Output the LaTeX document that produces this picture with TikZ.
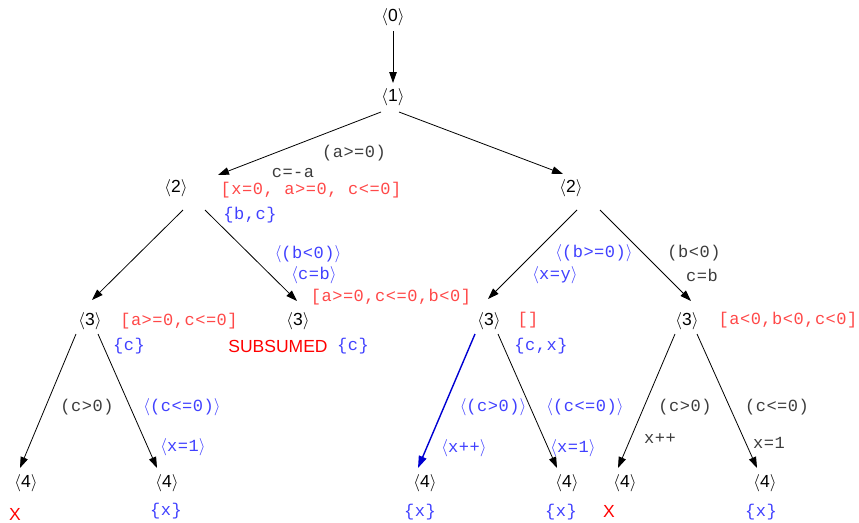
\documentclass[tikz,border=0pt]{standalone}
\usepackage{fontspec}
\setmainfont{Liberation Sans}
\newfontfamily\monof[LetterSpace=3]{Liberation Mono}
\usetikzlibrary{arrows.meta}
\definecolor{gtxt}{RGB}{60,60,60}
\definecolor{rtxt}{RGB}{255,72,72}
\definecolor{btxt}{RGB}{64,64,255}
\definecolor{bedge}{RGB}{0,0,210}
\newcommand{\lan}{\ensuremath{\langle}}
\newcommand{\ran}{\ensuremath{\rangle}}
\tikzset{
  sn/.style={font=\fontsize{17.5}{20}\selectfont, inner sep=0pt},
  lab/.style={font=\monof\fontsize{17}{20}\selectfont, inner sep=0pt},
  glab/.style={lab, text=gtxt},
  rlab/.style={lab, text=rtxt},
  blab/.style={lab, text=btxt},
  bad/.style={font=\fontsize{17.5}{20}\selectfont, inner sep=0pt, text=red},
  edge/.style={draw=black, line width=0.8pt, -{Triangle[length=11pt,width=7.5pt]}},
  bluedge/.style={draw=bedge, line width=1.4pt, -{Triangle[length=12pt,width=8pt]}},
}
\begin{document}
\begin{tikzpicture}[x=1pt,y=-1pt]
\useasboundingbox (0,0) rectangle (859,522);
% state nodes
\node[sn] (n0) at (393,17) {\lan0\ran};
\node[sn] (n1) at (393,97) {\lan1\ran};
\node[sn] (n2L) at (176,188) {\lan2\ran};
\node[sn] (n2R) at (571,188) {\lan2\ran};
\node[sn] (n3a) at (90,321) {\lan3\ran};
\node[sn] (n3b) at (298,321) {\lan3\ran};
\node[sn] (n3c) at (489,321) {\lan3\ran};
\node[sn] (n3d) at (687,321) {\lan3\ran};
\node[sn] (n4a) at (26,483) {\lan4\ran};
\node[sn] (n4b) at (167,483) {\lan4\ran};
\node[sn] (n4c) at (425,483) {\lan4\ran};
\node[sn] (n4d) at (567,483) {\lan4\ran};
\node[sn] (n4e) at (625,483) {\lan4\ran};
\node[sn] (n4f) at (765,483) {\lan4\ran};
% edges
\draw[edge] ([yshift=-14pt]n0.center) -- ([yshift=14pt]n1.center);
\draw[edge] ([xshift=-12pt,yshift=-15pt]n1.center) -- ([xshift=42pt,yshift=13pt]n2L.center);
\draw[edge] ([xshift=6pt,yshift=-15pt]n1.center) -- ([xshift=-8pt,yshift=14pt]n2R.center);
\draw[edge] ([xshift=7pt,yshift=-22pt]n2L.center) -- ([xshift=2pt,yshift=21pt]n3a.center);
\draw[edge] ([xshift=29pt,yshift=-22pt]n2L.center) -- ([xshift=-1pt,yshift=20pt]n3b.center);
\draw[edge] ([xshift=6pt,yshift=-22pt]n2R.center) -- ([xshift=-1pt,yshift=22pt]n3c.center);
\draw[edge] ([xshift=29pt,yshift=-22pt]n2R.center) -- ([xshift=4pt,yshift=20pt]n3d.center);
\draw[edge] ([xshift=-14pt,yshift=-13pt]n3a.center) -- ([xshift=-6pt,yshift=15pt]n4a.center);
\draw[edge] ([xshift=8pt,yshift=-13pt]n3a.center) -- ([xshift=-10pt,yshift=15pt]n4b.center);
\draw[bluedge] ([xshift=-14pt,yshift=-13pt]n3c.center) -- ([xshift=-7pt,yshift=15pt]n4c.center);
\draw[edge] ([xshift=9pt,yshift=-13pt]n3c.center) -- ([xshift=-10pt,yshift=15pt]n4d.center);
\draw[edge] ([xshift=-12pt,yshift=-13pt]n3d.center) -- ([xshift=-7pt,yshift=15pt]n4e.center);
\draw[edge] ([xshift=10pt,yshift=-13pt]n3d.center) -- ([xshift=-8pt,yshift=15pt]n4f.center);
% labels
\node[glab] (l1) at (354,153) {(a>=0)};
\node[glab] (l2) at (293,173) {c=-a};
\node[rlab] (l3) at (311,190) {[x=0, a>=0, c<=0]};
\node[blab] (l4) at (250,215) {\{b,c\}};
\node[blab] (l5) at (308,254) {\lan(b<0)\ran};
\node[blab] (l6) at (314,275) {\lan c=b\ran};
\node[rlab] (l7) at (391,297) {[a>=0,c<=0,b<0]};
\node[rlab] (l8) at (179,321) {[a>=0,c<=0]};
\node[blab] (l9) at (129,346) {\{c\}};
\node[bad] (l10) at (278,346) {SUBSUMED};
\node[blab] (l11) at (353,346) {\{c\}};
\node[blab] (l12) at (594,253) {\lan(b>=0)\ran};
\node[blab] (l13) at (555,275) {\lan x=y\ran};
\node[glab] (l14) at (694,253) {(b<0)};
\node[glab] (l15) at (702,275) {c=b};
\node[rlab] (l16) at (528,320) {[]};
\node[blab] (l17) at (541,346) {\{c,x\}};
\node[rlab] (l18) at (788,320) {[a<0,b<0,c<0]};
\node[glab] (l19) at (87,407) {(c>0)};
\node[blab] (l20) at (182,407) {\lan(c<=0)\ran};
\node[blab] (l21) at (183,447) {\lan x=1\ran};
\node[blab] (l22) at (166,511) {\{x\}};
\node[bad] (l23) at (15,514) {X};
\node[blab] (l24) at (493,407) {\lan(c>0)\ran};
\node[blab] (l25) at (585,407) {\lan(c<=0)\ran};
\node[glab] (l26) at (685,407) {(c>0)};
\node[glab] (l27) at (777,407) {(c<=0)};
\node[blab] (l28) at (464,448) {\lan x++\ran};
\node[blab] (l29) at (573,448) {\lan x=1\ran};
\node[glab] (l30) at (660,439) {x++};
\node[glab] (l31) at (769,443) {x=1};
\node[blab] (l32) at (420,512) {\{x\}};
\node[blab] (l33) at (561,512) {\{x\}};
\node[blab] (l34) at (761,512) {\{x\}};
\node[bad] (l35) at (609,511) {X};
\end{tikzpicture}
\end{document}
